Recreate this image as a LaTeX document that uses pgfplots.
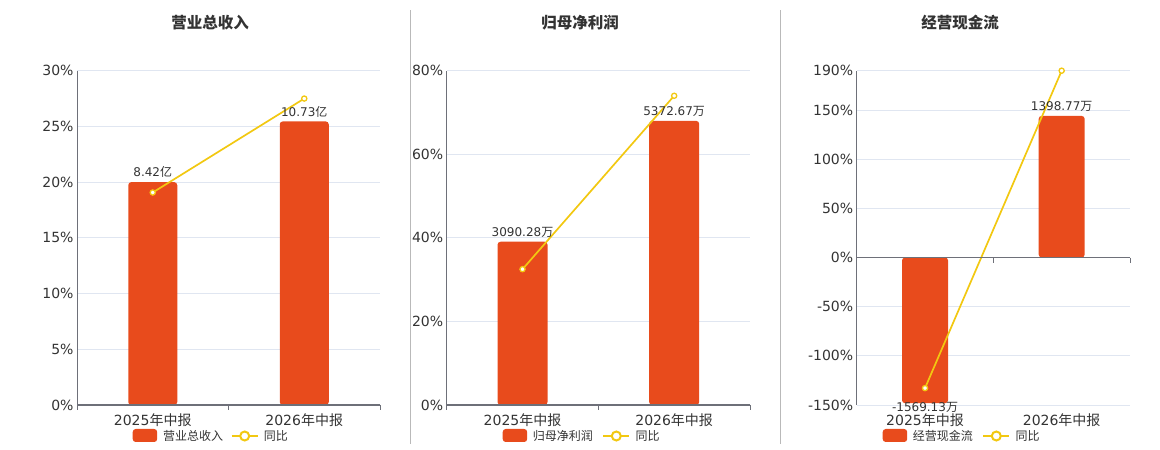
\documentclass[border=0pt]{standalone}
\usepackage{pgfplots}
\pgfplotsset{compat=1.18}
\usepackage{fontspec}
\setmainfont{DejaVu Sans}
\newfontfamily\cjk{Noto Sans CJK SC}
\DeclareRobustCommand\zh[1]{{\cjk #1}}
\definecolor{barred}{HTML}{E84B1C}
\definecolor{linecol}{HTML}{F2C811}
\definecolor{axisgray}{HTML}{6E7079}
\definecolor{gridcol}{HTML}{E0E6F1}
\definecolor{txt}{HTML}{333333}
\usetikzlibrary{calc}
\pgfplotsset{
  panel/.style={
    scale only axis, anchor=south west, height=334.3pt,
    xmin=-0.5, xmax=1.5, clip=false,
    axis x line*=bottom, axis y line*=left,
    x axis line style={draw=none},
    y axis line style={-, axisgray, line width=0.9pt},
    xtick={0,1}, xticklabels={2025\zh{年中报},2026\zh{年中报}},
    xtick style={draw=none}, ytick style={draw=none},
    ymajorgrids, grid style={gridcol, line width=0.8pt},
    tick label style={font=\fontsize{14}{16}\selectfont, text=txt},
    xticklabel style={yshift=-5.5pt},
    /pgf/number format/assume math mode=true,
  },
  bars/.style={ybar, fill=barred, draw=none, rounded corners=3pt,
    nodes near coords, point meta=explicit symbolic,
    every node near coord/.append style={font=\fontsize{12}{14}\selectfont, text=txt, inner sep=2pt, yshift=2pt}},
  negbars/.style={bars, every node near coord/.append style={anchor=north, yshift=0pt, inner sep=1pt}},
  yoy/.style={linecol, line width=1.7pt, mark=*, mark size=2.6pt,
    mark options={fill=white, draw=linecol, line width=1.3pt}},
}
\newcommand\xaxisdeco{%
  \draw[axisgray, line width=1.4pt] (axis cs:-0.5,0) -- (axis cs:1.5,0);
  \draw[axisgray, line width=1pt] (axis cs:-0.5,0) -- ++(0pt,-5pt);
  \draw[axisgray, line width=1pt] (axis cs:0.5,0) -- ++(0pt,-5pt);
  \draw[axisgray, line width=1pt] (axis cs:1.5,0) -- ++(0pt,-5pt);
}
\newcommand\legendat[4]{% rect x, text x, line x, label
  \fill[barred, rounded corners=3pt] (#1pt,8pt) rectangle ++(24.5pt,13pt);
  \node[anchor=west, inner sep=0pt, text=txt, font=\fontsize{12}{14}\selectfont\cjk] at (#2pt,14pt) {#4};
  \draw[linecol, line width=2pt] (#3pt,14pt) -- ++(26pt,0pt);
  \draw[linecol, fill=white, line width=2pt] ($(#3pt,14pt)+(13pt,0pt)$) circle (4.5pt);
  \node[anchor=west, inner sep=0pt, text=txt, font=\fontsize{12}{14}\selectfont\cjk] at ($(#3pt,14pt)+(32pt,0pt)$) {同比};
}
\begin{document}
\begin{tikzpicture}
\path (0pt,0pt) rectangle (1160pt,450pt);
\draw[gray!55, line width=0.8pt] (410.5pt,6pt) -- (410.5pt,440pt);
\draw[gray!55, line width=0.8pt] (780.5pt,6pt) -- (780.5pt,440pt);
\node[font=\fontsize{15.5}{18}\selectfont\cjk\bfseries, text=txt] at (210pt,427.5pt) {营业总收入};
\node[font=\fontsize{15.5}{18}\selectfont\cjk\bfseries, text=txt] at (580pt,427.5pt) {归母净利润};
\node[font=\fontsize{15.5}{18}\selectfont\cjk\bfseries, text=txt] at (960pt,427.5pt) {经营现金流};

% Panel 1
\begin{axis}[panel, at={(77pt,45pt)}, width=303pt, ymin=0, ymax=30,
  ytick={0,5,10,15,20,25,30}, yticklabels={0\%,5\%,10\%,15\%,20\%,25\%,30\%}]
\addplot[bars, bar width=49pt] coordinates {(0,20.0) [8.42\zh{亿}] (1,25.45) [10.73\zh{亿}]};
\addplot[yoy] coordinates {(0,19.07) (1,27.5)};
\xaxisdeco
\end{axis}

% Panel 2
\begin{axis}[panel, at={(446.7pt,45pt)}, width=303.3pt, ymin=0, ymax=80,
  ytick={0,20,40,60,80}, yticklabels={0\%,20\%,40\%,60\%,80\%}]
\addplot[bars, bar width=50pt] coordinates {(0,39.07) [3090.28\zh{万}] (1,68.0) [5372.67\zh{万}]};
\addplot[yoy] coordinates {(0,32.5) (1,74.0)};
\xaxisdeco
\end{axis}

% Panel 3
\begin{axis}[panel, at={(856.7pt,45pt)}, width=273.3pt, ymin=-150, ymax=190,
  ytick={-150,-100,-50,0,50,100,150,190},
  yticklabels={-150\%,-100\%,-50\%,0\%,50\%,100\%,150\%,190\%}]
\addplot[negbars, bar width=46pt] coordinates {(0,-148.2) [-1569.13\zh{万}]};
\addplot[bars, bar width=46pt] coordinates {(1,144.0) [1398.77\zh{万}]};
\addplot[yoy] coordinates {(0,-132.8) (1,190)};
\xaxisdeco
\end{axis}

\legendat{132.7}{163}{231.7}{营业总收入}
\legendat{502.7}{532.7}{603.3}{归母净利润}
\legendat{882.7}{912.7}{983.3}{经营现金流}
\end{tikzpicture}
\end{document}
